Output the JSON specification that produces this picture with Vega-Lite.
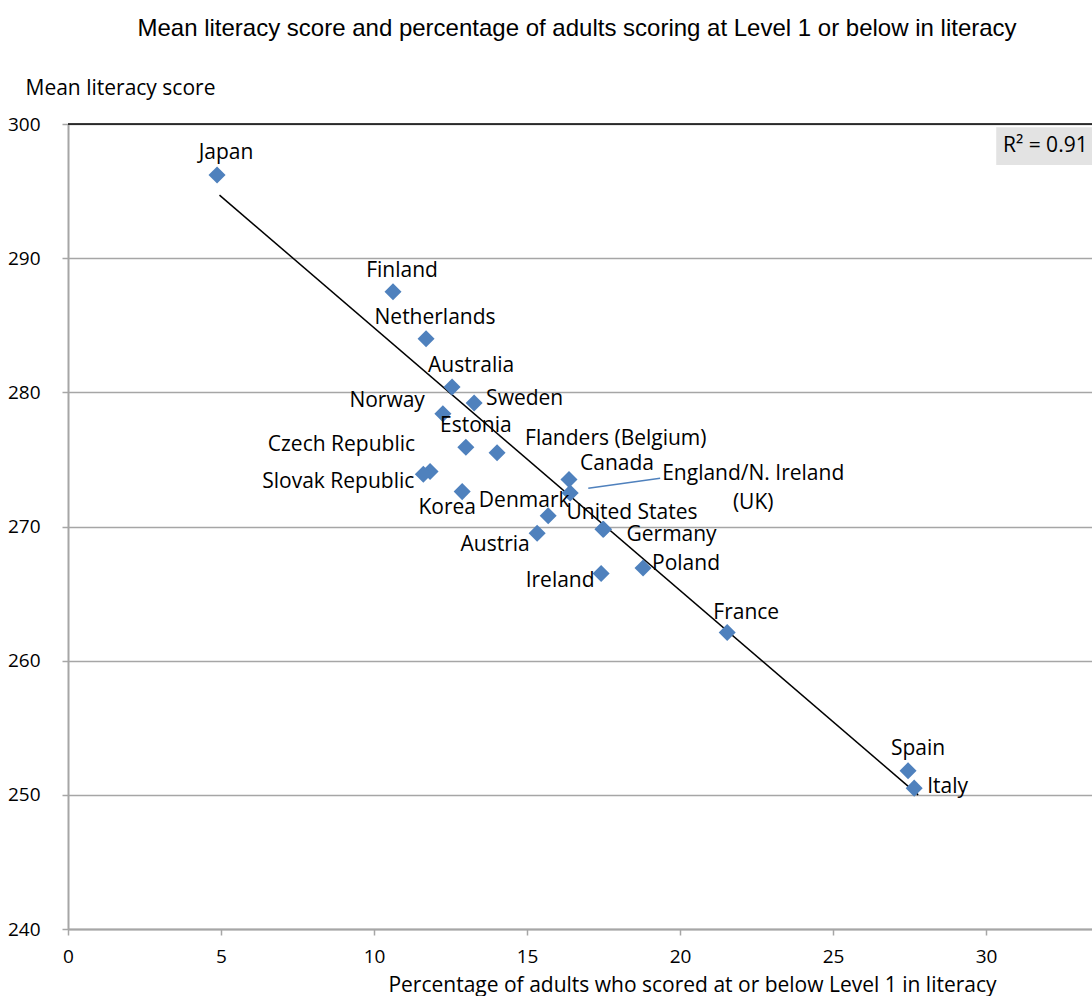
{
  "$schema": "https://vega.github.io/schema/vega-lite/v6.json",
  "autosize": {"type": "none"},
  "padding": {"left": 68, "top": 124, "right": 0, "bottom": 67},
  "width": 1024,
  "height": 805,
  "background": "white",
  "title": {
    "text": "Mean literacy score and percentage of adults scoring at Level 1 or below in literacy",
    "font": "Liberation Sans",
    "fontSize": 24,
    "fontWeight": "normal",
    "color": "black",
    "anchor": "middle",
    "frame": "group",
    "dx": -3,
    "offset": 36
  },
  "config": {
    "view": {"stroke": null},
    "text": {"font": "Open Sans", "fontSize": 21, "color": "black", "baseline": "middle"}
  },
  "data": {
    "values": [
      {"country": "Japan", "pct": 4.87, "score": 296.2},
      {"country": "Finland", "pct": 10.62, "score": 287.5},
      {"country": "Netherlands", "pct": 11.7, "score": 284.0},
      {"country": "Australia", "pct": 12.55, "score": 280.4},
      {"country": "Sweden", "pct": 13.27, "score": 279.2},
      {"country": "Norway", "pct": 12.25, "score": 278.4},
      {"country": "Estonia", "pct": 13.0, "score": 275.9},
      {"country": "Flanders (Belgium)", "pct": 14.02, "score": 275.5},
      {"country": "Czech Republic", "pct": 11.83, "score": 274.1},
      {"country": "Slovak Republic", "pct": 11.61, "score": 273.9},
      {"country": "Canada", "pct": 16.37, "score": 273.5},
      {"country": "Korea", "pct": 12.88, "score": 272.6},
      {"country": "England/N. Ireland (UK)", "pct": 16.41, "score": 272.5},
      {"country": "Denmark", "pct": 15.69, "score": 270.8},
      {"country": "United States", "pct": 17.48, "score": 269.8},
      {"country": "Germany", "pct": 17.5, "score": 269.8},
      {"country": "Austria", "pct": 15.33, "score": 269.5},
      {"country": "Poland", "pct": 18.79, "score": 266.9},
      {"country": "Ireland", "pct": 17.42, "score": 266.5},
      {"country": "France", "pct": 21.54, "score": 262.1},
      {"country": "Spain", "pct": 27.45, "score": 251.8},
      {"country": "Italy", "pct": 27.65, "score": 250.5}
    ]
  },
  "encoding": {
    "x": {
      "field": "pct", "type": "quantitative",
      "scale": {"domain": [0, 33.46], "nice": false, "zero": false},
      "axis": {
        "values": [0, 5, 10, 15, 20, 25, 30],
        "grid": false, "labelFlush": false,
        "domainColor": "#a6a6a6", "domainWidth": 2,
        "tickColor": "#a6a6a6", "tickWidth": 1.5, "tickSize": 6,
        "labelFont": "Open Sans", "labelFontSize": 19, "labelColor": "black", "labelPadding": 12,
        "title": "Percentage of adults who scored at or below Level 1 in literacy",
        "titleFont": "Open Sans", "titleFontSize": 21, "titleFontWeight": "normal", "titleColor": "black",
        "titleX": 624, "titleY": 56, "titleBaseline": "middle", "titleAlign": "center"
      }
    },
    "y": {
      "field": "score", "type": "quantitative",
      "scale": {"domain": [240, 300], "nice": false, "zero": false},
      "axis": {
        "values": [240, 250, 260, 270, 280, 290, 300],
        "grid": true, "gridColor": "#a6a6a6", "gridWidth": 1.5, "labelFlush": false,
        "domainColor": "#a6a6a6", "domainWidth": 2,
        "tickColor": "#a6a6a6", "tickWidth": 1.5, "tickSize": 6,
        "labelFont": "Open Sans", "labelFontSize": 19, "labelColor": "black", "labelPadding": 22,
        "title": "Mean literacy score",
        "titleFont": "Open Sans", "titleFontSize": 21, "titleFontWeight": "normal", "titleColor": "black",
        "titleAngle": 0, "titleAlign": "left", "titleBaseline": "middle",
        "titleX": -43, "titleY": -36
      }
    }
  },
  "layer": [
    {
      "transform": [{"filter": "datum.country === 'Japan'"}],
      "mark": {"type": "rule", "color": "black", "strokeWidth": 1.5},
      "encoding": {"y": {"datum": 300}, "x": {"datum": 0}, "x2": {"datum": 33.46}}
    },
    {
      "transform": [{"filter": "datum.country === 'Japan'"}],
      "mark": {"type": "rect", "color": "#e3e3e3"},
      "encoding": {"x": {"datum": 30.33}, "x2": {"datum": 33.46}, "y": {"datum": 299.75}, "y2": {"datum": 296.95}}
    },
    {
      "transform": [{"filter": "datum.country === 'Japan'"}],
      "mark": {"type": "text", "align": "left", "text": "R² = 0.91"},
      "encoding": {"x": {"datum": 30.55}, "y": {"datum": 298.35}}
    },
    {
      "transform": [{"filter": "datum.country === 'Japan'"}],
      "mark": {"type": "rule", "color": "black", "strokeWidth": 1.5},
      "encoding": {"x": {"datum": 4.95}, "y": {"datum": 294.7}, "x2": {"datum": 27.78}, "y2": {"datum": 250.0}}
    },
    {
      "transform": [{"filter": "datum.country === 'Japan'"}],
      "mark": {"type": "rule", "color": "#4f81bd", "strokeWidth": 1.5},
      "encoding": {"x": {"datum": 17.0}, "y": {"datum": 272.85}, "x2": {"datum": 19.35}, "y2": {"datum": 273.6}}
    },
    {
      "mark": {"type": "point", "shape": "diamond", "filled": true, "color": "#4f81bd", "size": 290, "opacity": 1}
    },
    {"transform": [{"filter": "datum.country === 'Japan'"}], "mark": {"type": "text", "dx": 9, "dy": -22}, "encoding": {"text": {"field": "country"}}},
    {"transform": [{"filter": "datum.country === 'Finland'"}], "mark": {"type": "text", "dx": 9, "dy": -21}, "encoding": {"text": {"field": "country"}}},
    {"transform": [{"filter": "datum.country === 'Netherlands'"}], "mark": {"type": "text", "dx": 9, "dy": -21}, "encoding": {"text": {"field": "country"}}},
    {"transform": [{"filter": "datum.country === 'Australia'"}], "mark": {"type": "text", "dx": 19, "dy": -21}, "encoding": {"text": {"field": "country"}}},
    {"transform": [{"filter": "datum.country === 'Sweden'"}], "mark": {"type": "text", "align": "left", "dx": 12, "dy": -4}, "encoding": {"text": {"field": "country"}}},
    {"transform": [{"filter": "datum.country === 'Norway'"}], "mark": {"type": "text", "align": "right", "dx": -18, "dy": -13}, "encoding": {"text": {"field": "country"}}},
    {"transform": [{"filter": "datum.country === 'Estonia'"}], "mark": {"type": "text", "dx": 10, "dy": -21}, "encoding": {"text": {"field": "country"}}},
    {"transform": [{"filter": "datum.country === 'Flanders (Belgium)'"}], "mark": {"type": "text", "align": "left", "dx": 28, "dy": -14}, "encoding": {"text": {"field": "country"}}},
    {"transform": [{"filter": "datum.country === 'Czech Republic'"}], "mark": {"type": "text", "align": "right", "dx": -15, "dy": -26}, "encoding": {"text": {"field": "country"}}},
    {"transform": [{"filter": "datum.country === 'Slovak Republic'"}], "mark": {"type": "text", "align": "right", "dx": -9, "dy": 8}, "encoding": {"text": {"field": "country"}}},
    {"transform": [{"filter": "datum.country === 'Korea'"}], "mark": {"type": "text", "dx": -15, "dy": 16}, "encoding": {"text": {"field": "country"}}},
    {"transform": [{"filter": "datum.country === 'Canada'"}], "mark": {"type": "text", "align": "left", "dx": 11, "dy": -16}, "encoding": {"text": {"field": "country"}}},
    {"transform": [{"filter": "datum.country === 'England/N. Ireland (UK)'"}], "mark": {"type": "text", "dx": 183, "dy": -19, "lineHeight": 29, "text": ["England/N. Ireland", "(UK)"]}},
    {"transform": [{"filter": "datum.country === 'Denmark'"}], "mark": {"type": "text", "dx": -24, "dy": -15}, "encoding": {"text": {"field": "country"}}},
    {"transform": [{"filter": "datum.country === 'United States'"}], "mark": {"type": "text", "dx": 29, "dy": -16}, "encoding": {"text": {"field": "country"}}},
    {"transform": [{"filter": "datum.country === 'Germany'"}], "mark": {"type": "text", "dx": 68, "dy": 6}, "encoding": {"text": {"field": "country"}}},
    {"transform": [{"filter": "datum.country === 'Austria'"}], "mark": {"type": "text", "dx": -42, "dy": 12}, "encoding": {"text": {"field": "country"}}},
    {"transform": [{"filter": "datum.country === 'Poland'"}], "mark": {"type": "text", "align": "left", "dx": 9, "dy": -4}, "encoding": {"text": {"field": "country"}}},
    {"transform": [{"filter": "datum.country === 'Ireland'"}], "mark": {"type": "text", "dx": -41, "dy": 8}, "encoding": {"text": {"field": "country"}}},
    {"transform": [{"filter": "datum.country === 'France'"}], "mark": {"type": "text", "dx": 19, "dy": -19}, "encoding": {"text": {"field": "country"}}},
    {"transform": [{"filter": "datum.country === 'Spain'"}], "mark": {"type": "text", "dx": 10, "dy": -22}, "encoding": {"text": {"field": "country"}}},
    {"transform": [{"filter": "datum.country === 'Italy'"}], "mark": {"type": "text", "align": "left", "dx": 13, "dy": -1}, "encoding": {"text": {"field": "country"}}}
  ]
}
